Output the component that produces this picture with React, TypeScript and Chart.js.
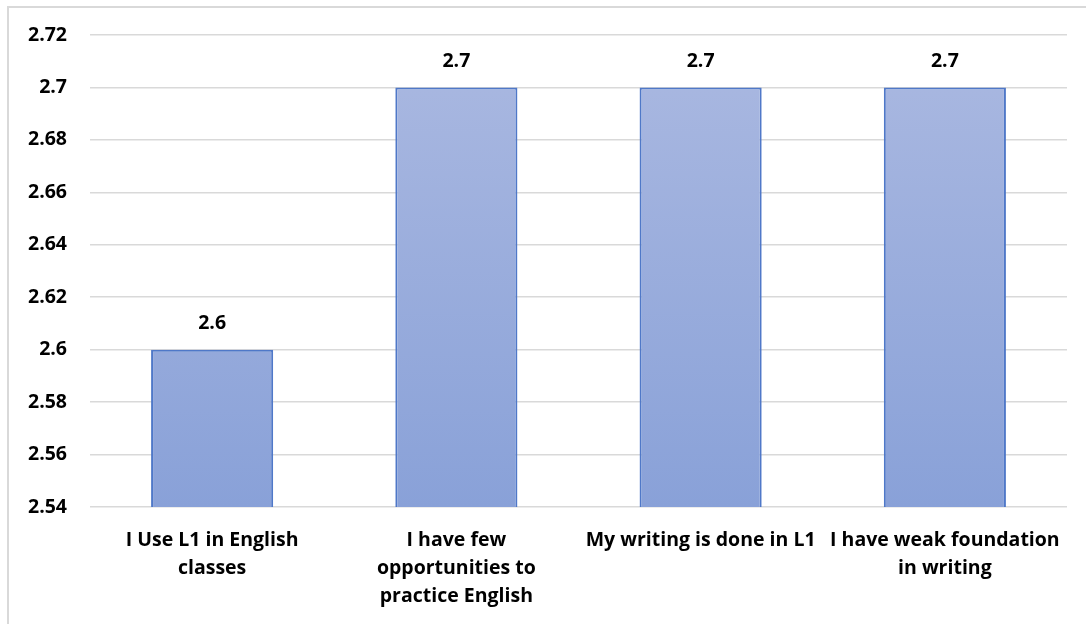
import React, { useEffect, useRef } from "react";
import { Chart, registerables } from "chart.js";

Chart.register(...registerables);

const categories: string[][] = [
  ["I Use L1 in English", "classes"],
  ["I have few", "opportunities to", "practice English"],
  ["My writing is done in L1"],
  ["I have weak foundation", "in writing"],
];
const values: number[] = [2.6, 2.7, 2.7, 2.7];
const yMin = 2.54;
const yMax = 2.72;
const yStep = 0.02;

const FONT = "'Open Sans', 'Liberation Sans', sans-serif";
const FONT_SIZE = 19.5;

// Draws each bar's value just above it.
const valueLabels = {
  id: "valueLabels",
  afterDatasetsDraw(chart: Chart) {
    const { ctx } = chart;
    const meta = chart.getDatasetMeta(0);
    ctx.save();
    ctx.font = `bold ${FONT_SIZE}px ${FONT}`;
    ctx.fillStyle = "#000";
    ctx.textAlign = "center";
    ctx.textBaseline = "middle";
    meta.data.forEach((bar: any, i: number) => {
      ctx.fillText(String(values[i]), bar.x, bar.y - 26);
    });
    ctx.restore();
  },
};

export default function App() {
  const ref = useRef<HTMLCanvasElement>(null);

  useEffect(() => {
    document.body.style.margin = "0";
    document.body.style.overflow = "hidden";
    const chart = new Chart(ref.current!, {
      type: "bar",
      data: {
        labels: categories,
        datasets: [
          {
            data: values,
            backgroundColor: (c: any) => {
              const area = c.chart.chartArea;
              if (!area) return "#9aaddc";
              const g = c.chart.ctx.createLinearGradient(0, area.top, 0, area.bottom);
              g.addColorStop(0, "#abb9e1");
              g.addColorStop(1, "#89a1d8");
              return g;
            },
            borderColor: "#4f78c8",
            borderWidth: 2,
            borderSkipped: "bottom",
            barPercentage: 1,
            categoryPercentage: 0.5,
          },
        ],
      },
      options: {
        animation: false,
        responsive: true,
        maintainAspectRatio: false,
        layout: { padding: { top: 35, right: 19, left: 0, bottom: 0 } },
        plugins: { legend: { display: false }, tooltip: { enabled: false } },
        scales: {
          x: {
            grid: { display: false, drawTicks: false },
            border: { display: false },
            ticks: {
              color: "#000",
              font: { family: FONT, size: FONT_SIZE, weight: "bold", lineHeight: 1.45 },
              padding: 19,
              maxRotation: 0,
              autoSkip: false,
            },
            afterFit: (s: any) => {
              s.height = 117;
            },
          },
          y: {
            min: yMin,
            max: yMax,
            grid: { color: "#d9d9d9", lineWidth: 1.5, drawTicks: false },
            border: { display: false },
            ticks: {
              stepSize: yStep,
              color: "#000",
              padding: 23,
              font: { family: FONT, size: FONT_SIZE, weight: "bold" },
              callback: (v: any) => String(Math.round(Number(v) * 100) / 100),
            },
            afterFit: (s: any) => {
              s.width = 90;
            },
          },
        },
      },
      plugins: [valueLabels],
    });
    return () => chart.destroy();
  }, []);

  return (
    <div style={{ position: "relative", width: 1086, height: 624, background: "#fff" }}>
      <div
        style={{
          position: "absolute",
          left: 7,
          top: 6,
          right: 0,
          bottom: 0,
          borderLeft: "2px solid #d9d9d9",
          borderTop: "2px solid #d9d9d9",
        }}
      />
      <canvas ref={ref} style={{ position: "absolute", left: 0, top: 0 }} />
    </div>
  );
}
